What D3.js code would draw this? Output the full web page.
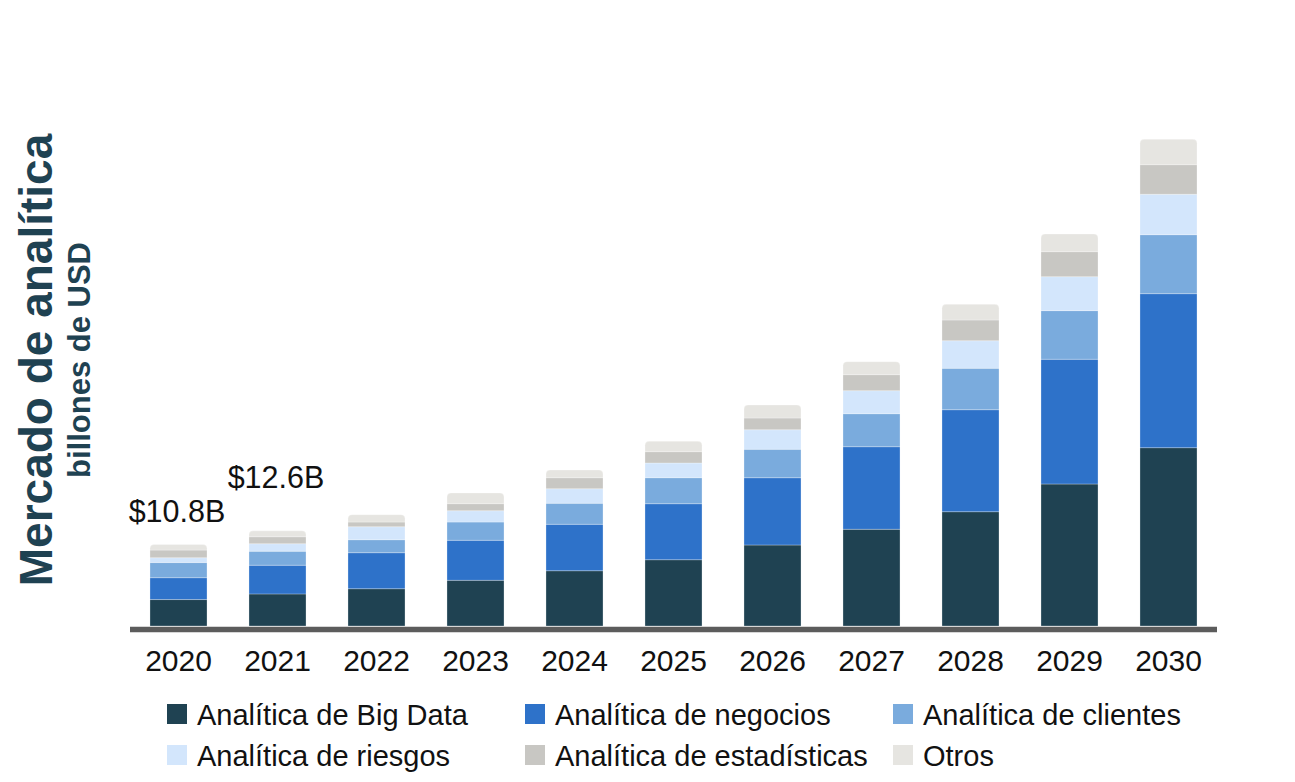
<!DOCTYPE html>
<html>
<head>
<meta charset="utf-8">
<script src="https://cdn.jsdelivr.net/npm/d3@7"></script>
<style>
  html, body { margin: 0; padding: 0; background: #ffffff; }
  svg { display: block; font-family: "Liberation Sans", Arial, sans-serif; }
</style>
</head>
<body>
<svg id="chart" width="1295" height="782"></svg>
<script>
// ---- Data (billions USD) ----
const years = ["2020","2021","2022","2023","2024","2025","2026","2027","2028","2029","2030"];
const seriesNames = ["Analítica de Big Data","Analítica de negocios","Analítica de clientes","Analítica de riesgos","Analítica de estadísticas","Otros"];
const bigData      = [3.50, 4.25, 4.94, 6.05, 7.32, 8.78, 10.73, 12.81, 15.14, 18.81, 23.62];
const negocios     = [2.90, 3.80, 4.77, 5.30, 6.15, 7.42, 8.91, 10.94, 13.51, 16.52, 20.40];
const clientes     = [2.00, 1.85, 1.72, 2.42, 2.78, 3.44, 3.76, 4.37, 5.48, 6.44, 7.81];
const riesgos      = [0.65, 1.00, 1.72, 1.50, 1.93, 1.95, 2.60, 3.05, 3.66, 4.50, 5.35];
const estadisticas = [1.00, 0.92, 0.62, 0.93, 1.46, 1.50, 1.55, 2.12, 2.74, 3.31, 3.92];
const otros        = [0.75, 0.78, 0.97, 1.42, 1.02, 1.38, 1.72, 1.72, 2.08, 2.34, 3.36];
const totalLabels  = ["$10.8B", "$12.6B"];
const titleText = "Mercado de analítica";
const subtitleText = "billones de USD";

// ---- Styles ----
const colors = ["#1f4252", "#2e72c9", "#7aabdd", "#d3e6fc", "#c8c7c3", "#e6e5e1"];
const seriesArrays = [bigData, negocios, clientes, riesgos, estadisticas, otros];
const keys = ["bigData","negocios","clientes","riesgos","estadisticas","otros"];

const table = years.map((y, i) => {
  const row = { year: y };
  keys.forEach((k, j) => row[k] = seriesArrays[j][i]);
  return row;
});

const svg = d3.select("#chart");

const x = d3.scaleBand().domain(years).range([129, 1218]).paddingInner(0.424).paddingOuter(0.212);
const y = d3.scaleLinear().domain([0, 65]).range([626, 135.25]);

const stacked = d3.stack().keys(keys)(table);

function topRounded(x0, y0, w, h, r) {
  r = Math.min(r, h, w / 2);
  return `M${x0},${y0 + h}V${y0 + r}Q${x0},${y0} ${x0 + r},${y0}H${x0 + w - r}Q${x0 + w},${y0} ${x0 + w},${y0 + r}V${y0 + h}Z`;
}

const layers = svg.append("g").selectAll("g")
  .data(stacked).join("g")
  .attr("fill", (d, i) => colors[i]);

layers.each(function(layer, li) {
  const g = d3.select(this);
  g.selectAll("path").data(layer).join("path")
    .attr("d", d => {
      const x0 = x(d.data.year), w = x.bandwidth();
      const yTop = y(d[1]), h = y(d[0]) - y(d[1]);
      return li === keys.length - 1 ? topRounded(x0, yTop, w, h, 4)
        : `M${x0},${yTop}h${w}v${h}h${-w}Z`;
    })
    .attr("stroke", "rgba(255,255,255,0.35)")
    .attr("stroke-width", 0.8);
});

// Axis baseline
const axisG = svg.append("g").attr("transform", "translate(0,629.5)")
  .call(d3.axisBottom(x).tickSize(0).tickPadding(0));
axisG.select(".domain").attr("stroke", "#5c5c5c").attr("stroke-width", 5.5)
  .attr("d", `M${x.range()[0] + 1},0H${x.range()[1] - 1}`);
axisG.selectAll(".tick text")
  .attr("font-size", 30).attr("fill", "#111").attr("font-family", "Liberation Sans, Arial, sans-serif")
  .attr("dy", null).attr("y", 41);

// Total labels
const labelOffsets = [22, 43];
totalLabels.forEach((t, i) => {
  const total = d3.sum(seriesArrays, a => a[i]);
  svg.append("text")
    .attr("x", x(years[i]) + x.bandwidth() / 2 - 1.5)
    .attr("y", y(total) - labelOffsets[i])
    .attr("text-anchor", "middle")
    .attr("font-size", 30.5)
    .attr("fill", "#111")
    .text(t);
});

// Y titles
svg.append("text")
  .attr("transform", "translate(52,360) rotate(-90)")
  .attr("text-anchor", "middle")
  .attr("font-size", 46).attr("font-weight", "bold").attr("fill", "#1f4252")
  .text(titleText);
svg.append("text")
  .attr("transform", "translate(90,360) rotate(-90)")
  .attr("text-anchor", "middle")
  .attr("font-size", 31).attr("font-weight", "bold").attr("fill", "#1f4252")
  .text(subtitleText);

// Legend
const legendCols = [167, 525, 893];
const legendRows = [714, 755];
seriesNames.forEach((name, i) => {
  const cx = legendCols[i % 3], cy = legendRows[Math.floor(i / 3)];
  const g = svg.append("g").attr("transform", `translate(${cx},${cy})`);
  g.append("rect").attr("x", 0).attr("y", -10).attr("width", 20).attr("height", 20).attr("fill", colors[i]);
  g.append("text").attr("x", 30).attr("y", 10.5)
    .attr("font-size", 29).attr("fill", "#111").text(name);
});
</script>
</body>
</html>
